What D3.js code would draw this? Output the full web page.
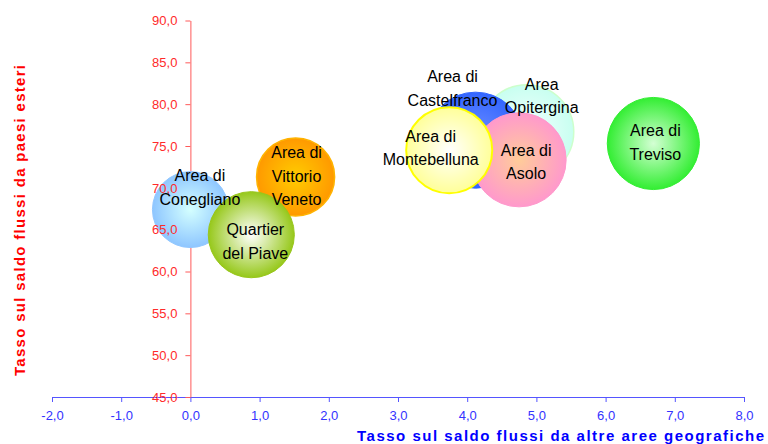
<!DOCTYPE html>
<html><head><meta charset="utf-8">
<script src="https://cdn.jsdelivr.net/npm/d3@7"></script>
<style>body{margin:0;background:#fff} svg{display:block}</style>
</head><body><svg id="c" width="768" height="444"></svg>
<script>
// ---- data ----
const categories = ["Area di Conegliano", "Area di Vittorio Veneto", "Quartier del Piave", "Area Opitergina",
                    "Area di Castelfranco", "Area di Asolo", "Area di Montebelluna", "Area di Treviso"];
const labels = ["Area di\nConegliano", "Area di\nVittorio\nVeneto", "Quartier\ndel Piave", "Area\nOpitergina",
                "Area di\nCastelfranco", "Area di\nAsolo", "Area di\nMontebelluna", "Area di\nTreviso"];
const xValues = [0.0, 1.52, 0.88, 4.86, 4.12, 4.75, 3.74, 6.69];
const yValues = [67.4, 71.3, 64.4, 76.7, 75.7, 73.35, 74.5, 75.3];
const sizes   = [14.4, 15.2, 18.5, 22.1, 23.0, 22.1, 18.5, 21.2];
const xTicks = [-2, -1, 0, 1, 2, 3, 4, 5, 6, 7, 8];
const yTicks = [45, 50, 55, 60, 65, 70, 75, 80, 85, 90];
const xTitle = "Tasso sul saldo flussi da altre aree geografiche";
const yTitle = "Tasso sul saldo flussi da paesi esteri";

// ---- styling / layout ----
const styles = [
  {c0: "#d4ffff", c1: "#8ec6ff", stroke: "#93c8ff", sw: 1},
  {c0: "#ffcc00", c1: "#ff9900", stroke: "#ffb300", sw: 1.5},
  {c0: "#ffffff", c1: "#96c81a", stroke: "#99c61c", sw: 1},
  {c0: "#f4ffff", c1: "#c8fff0", stroke: "#ccffcc", sw: 1.5},
  {c0: "#6f8fff", c1: "#3366ff", stroke: "#3366ff", sw: 1},
  {c0: "#ffcc99", c1: "#ff99cc", stroke: "#ff99cc", sw: 1},
  {c0: "#ffffff", c1: "#ffff99", stroke: "#ffff00", sw: 2},
  {c0: "#d4ffd4", c1: "#33ee33", stroke: "#33ee33", sw: 1}
];
const labelShift = [[9.5, -22.4], [1, -0.7], [4, 6.8], [15, -36.2], [-23, -51.7], [7, 1.8], [-18.5, -2.2], [2, -1.4]];
const FONT = "'Liberation Sans', Arial, Helvetica, sans-serif";

const svg = d3.select("#c");
const x = d3.scaleLinear().domain([-2, 8]).range([52, 744]);
const y = d3.scaleLinear().domain([45, 90]).range([397, 20.5]);
const r = d3.scaleSqrt().domain([0, d3.max(sizes)]).range([0, 48]);
const fmt = v => v.toFixed(1).replace(".", ",");

const defs = svg.append("defs");
styles.forEach((s, i) => {
  const g = defs.append("radialGradient").attr("id", "g" + i)
    .attr("cx", "50%").attr("cy", "50%").attr("r", "50%");
  g.append("stop").attr("offset", "0%").attr("stop-color", s.c0);
  g.append("stop").attr("offset", "100%").attr("stop-color", s.c1);
});

// axis lines & ticks (below bubbles)
const xAxisLines = svg.append("g").attr("transform", `translate(0,${y(45)})`)
  .call(d3.axisBottom(x).tickValues(xTicks).tickSize(5).tickSizeOuter(0).tickFormat(""));
xAxisLines.selectAll("path,line").attr("stroke", "#5555ff");
const yAxisLines = svg.append("g").attr("transform", `translate(${x(0)},0)`)
  .call(d3.axisLeft(y).tickValues(yTicks).tickSize(5).tickSizeOuter(0).tickFormat(""));
yAxisLines.selectAll("path,line").attr("stroke", "#ff5a5a");

// bubbles
const idx = d3.range(categories.length);
svg.append("g").selectAll("circle").data(idx).join("circle")
  .attr("cx", i => x(xValues[i]))
  .attr("cy", i => y(yValues[i]))
  .attr("r", i => r(sizes[i]))
  .attr("fill", i => `url(#g${i})`)
  .attr("stroke", i => styles[i].stroke)
  .attr("stroke-width", i => styles[i].sw);

// tick labels (above bubbles)
const xAxisText = svg.append("g").attr("transform", `translate(0,${y(45)})`)
  .call(d3.axisBottom(x).tickValues(xTicks).tickSize(0).tickPadding(14).tickFormat(fmt));
xAxisText.select(".domain").remove();
xAxisText.selectAll("line").remove();
xAxisText.selectAll("text").attr("fill", "#3333ff").style("font", `13px ${FONT}`);

const yAxisText = svg.append("g").attr("transform", `translate(${x(0)},0)`)
  .call(d3.axisLeft(y).tickValues(yTicks).tickSize(0).tickPadding(13).tickFormat(fmt));
yAxisText.select(".domain").remove();
yAxisText.selectAll("line").remove();
yAxisText.selectAll("text").attr("fill", "#ff2a2a").style("font", `13px ${FONT}`);

// data labels
const LH = 23.5;
const lab = svg.append("g").selectAll("text").data(idx).join("text")
  .attr("text-anchor", "middle")
  .attr("fill", "#000")
  .style("font", `16px ${FONT}`);
lab.each(function(i) {
  const lines = labels[i].split("\n");
  const cx = x(xValues[i]) + labelShift[i][0];
  const cy = y(yValues[i]) + labelShift[i][1];
  d3.select(this).selectAll("tspan").data(lines).join("tspan")
    .attr("x", cx)
    .attr("y", (d, k) => cy + 5.7 + (k - (lines.length - 1) / 2) * LH)
    .text(d => d);
});

// axis titles
svg.append("text").attr("x", 357).attr("y", 441)
  .attr("textLength", 407).attr("lengthAdjust", "spacing")
  .attr("fill", "#0000ff").style("font", `bold 15px ${FONT}`).text(xTitle);
svg.append("text").attr("transform", "translate(25,220.5) rotate(-90)")
  .attr("text-anchor", "middle")
  .attr("textLength", 311).attr("lengthAdjust", "spacing")
  .attr("fill", "#ff0000").style("font", `bold 15px ${FONT}`).text(yTitle);
</script>
</body></html>
